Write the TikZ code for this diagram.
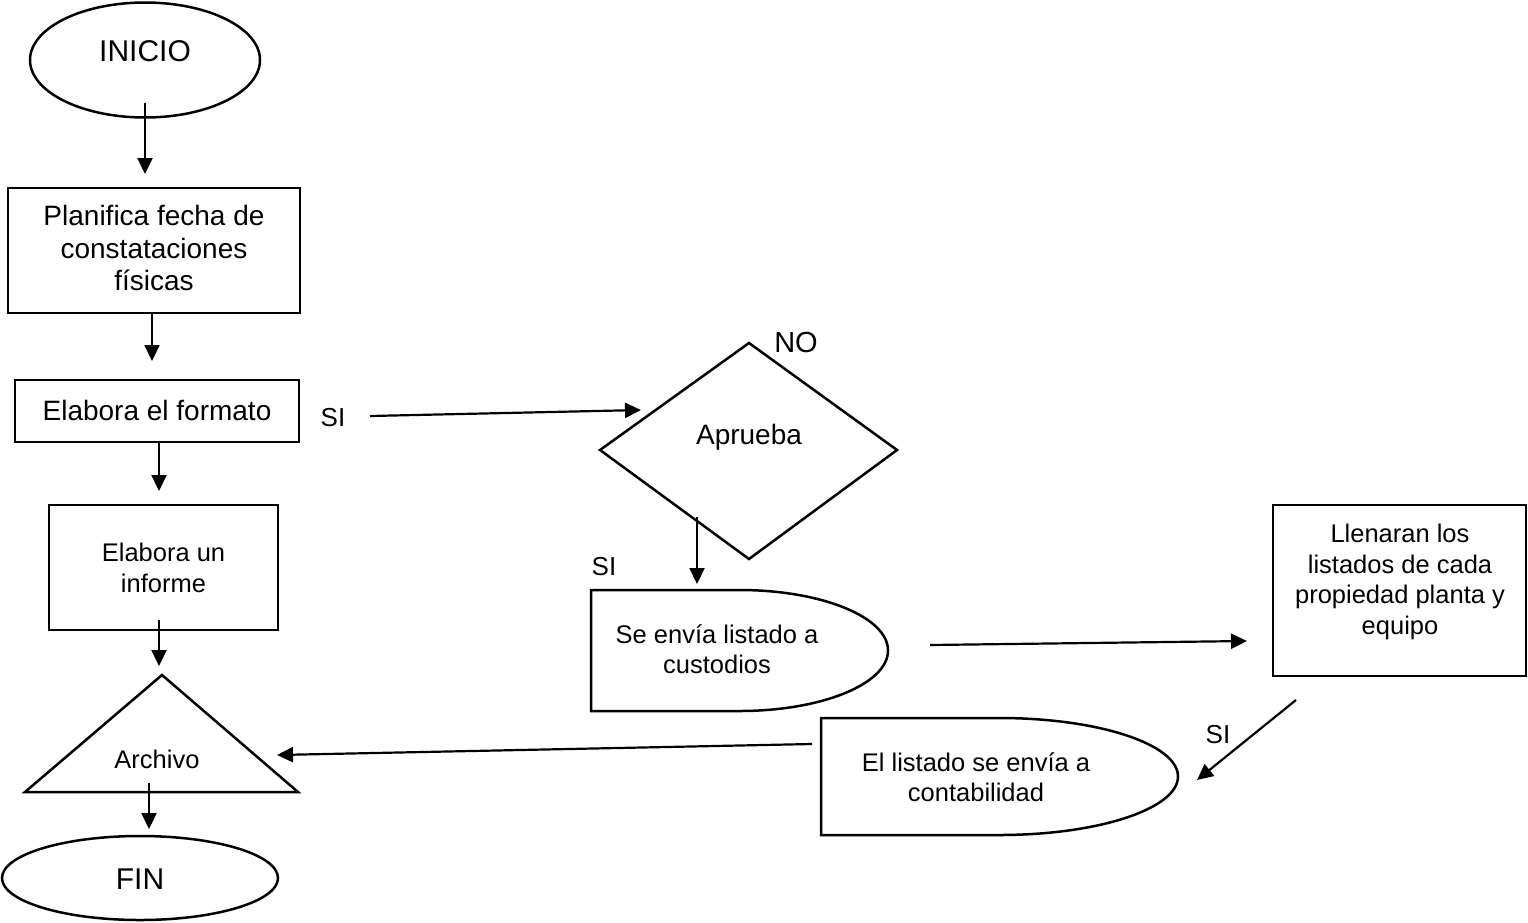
\documentclass[tikz,border=0pt]{standalone}
\usepackage{fontspec}
\setmainfont{Liberation Sans}
\usetikzlibrary{arrows.meta,shapes.geometric}
\begin{document}
\begin{tikzpicture}[x=1pt,y=-1pt,
  shapeline/.style={draw=black,line width=2.5pt},
  flow/.style={line width=2.2pt,-{Triangle[length=16pt,width=15pt]}},
  bigtxt/.style={font=\fontsize{28}{32.5}\selectfont,align=center,inner sep=0pt},
  smalltxt/.style={font=\fontsize{25.5}{30.5}\selectfont,align=center,inner sep=0pt},
  termtxt/.style={font=\fontsize{30}{34}\selectfont,inner sep=0pt},
  boxshape/.style={rectangle,shapeline,inner sep=0pt,outer sep=0pt},
  ellshape/.style={ellipse,shapeline,inner sep=0pt,outer sep=0pt},
]
\useasboundingbox (0,0) rectangle (1528,922);

% terminals
\node[ellshape,minimum width=230pt,minimum height=115pt] (inicio) at (145,60) {};
\node[termtxt] (iniciotxt) at (145,51) {INICIO};
\node[ellshape,minimum width=276pt,minimum height=84pt] (fin) at (140,878) {};
\node[termtxt] (fintxt) at (140,879) {FIN};

% process boxes
\node[boxshape,minimum width=292pt,minimum height=125pt] (plan) at (154,250.5) {};
\node[bigtxt] (plantxt) at (154,248) {Planifica fecha de\\constataciones\\físicas};
\node[boxshape,minimum width=284pt,minimum height=62pt] (formato) at (157,411) {};
\node[bigtxt] (formatotxt) at (157,410) {Elabora el formato};
\node[boxshape,minimum width=229pt,minimum height=125pt] (informe) at (163.5,567.5) {};
\node[smalltxt] (informetxt) at (163.5,568) {Elabora un\\informe};
\node[boxshape,minimum width=253pt,minimum height=171pt] (llen) at (1399.5,590.5) {};
\node[smalltxt] (llentxt) at (1400,582) {Llenaran los\\listados de cada\\propiedad planta y\\equipo};

% triangle (archivo)
\coordinate (triA) at (162,675);
\coordinate (triB) at (25,792);
\coordinate (triC) at (298,792);
\draw[shapeline,line join=miter] (triA) -- (triC) -- (triB) -- cycle;
\node[smalltxt] (archivo) at (157,759) {Archivo};

% decision
\coordinate (dT) at (749,343);
\coordinate (dR) at (897,450);
\coordinate (dB) at (749,559);
\coordinate (dL) at (600,450);
\draw[shapeline] (dT) -- (dR) -- (dB) -- (dL) -- cycle;
\node[bigtxt] (aprueba) at (749,437) {Aprueba};

% delay shapes
\draw[shapeline] (591,590) -- (739.5,590) arc[start angle=90,end angle=-90,x radius=148.5pt,y radius=60.5pt] -- (591,711) -- cycle;
\node[smalltxt] (envia) at (717,649) {Se envía listado a\\custodios};
\draw[shapeline] (821,718) -- (999.5,718) arc[start angle=90,end angle=-90,x radius=178.5pt,y radius=58.5pt] -- (821,835) -- cycle;
\node[smalltxt] (conta) at (976,777) {El listado se envía a\\contabilidad};

% labels
\node[font=\fontsize{26}{30}\selectfont,inner sep=0pt] (si1) at (333,418) {SI};
\node[font=\fontsize{29}{33}\selectfont,inner sep=0pt] (no) at (796,343) {NO};
\node[font=\fontsize{26}{30}\selectfont,inner sep=0pt] (si2) at (604,567) {SI};
\node[font=\fontsize{26}{30}\selectfont,inner sep=0pt] (si3) at (1218,735) {SI};

% connector ends
\coordinate (a1s) at (145,103);  \coordinate (a1e) at (145,174);
\coordinate (a2s) at (152,313);  \coordinate (a2e) at (152,361);
\coordinate (a3s) at (159,442);  \coordinate (a3e) at (159,491);
\coordinate (a4s) at (159,620);  \coordinate (a4e) at (159,666);
\coordinate (a5s) at (149,783);  \coordinate (a5e) at (149,829);
\coordinate (a6s) at (370,416);  \coordinate (a6e) at (641,410);
\coordinate (a7s) at (697,517);  \coordinate (a7e) at (697,584);
\coordinate (a8s) at (930,645);  \coordinate (a8e) at (1247,641);
\coordinate (a9s) at (1296,700); \coordinate (a9e) at (1197,780);
\coordinate (a10s) at (812,744); \coordinate (a10e) at (277,755);

\draw[flow] (a1s) -- (a1e);
\draw[flow] (a2s) -- (a2e);
\draw[flow] (a3s) -- (a3e);
\draw[flow] (a4s) -- (a4e);
\draw[flow] (a5s) -- (a5e);
\draw[flow] (a6s) -- (a6e);
\draw[flow] (a7s) -- (a7e);
\draw[flow] (a8s) -- (a8e);
\draw[flow] (a9s) -- (a9e);
\draw[flow] (a10s) -- (a10e);
\end{tikzpicture}
\end{document}
